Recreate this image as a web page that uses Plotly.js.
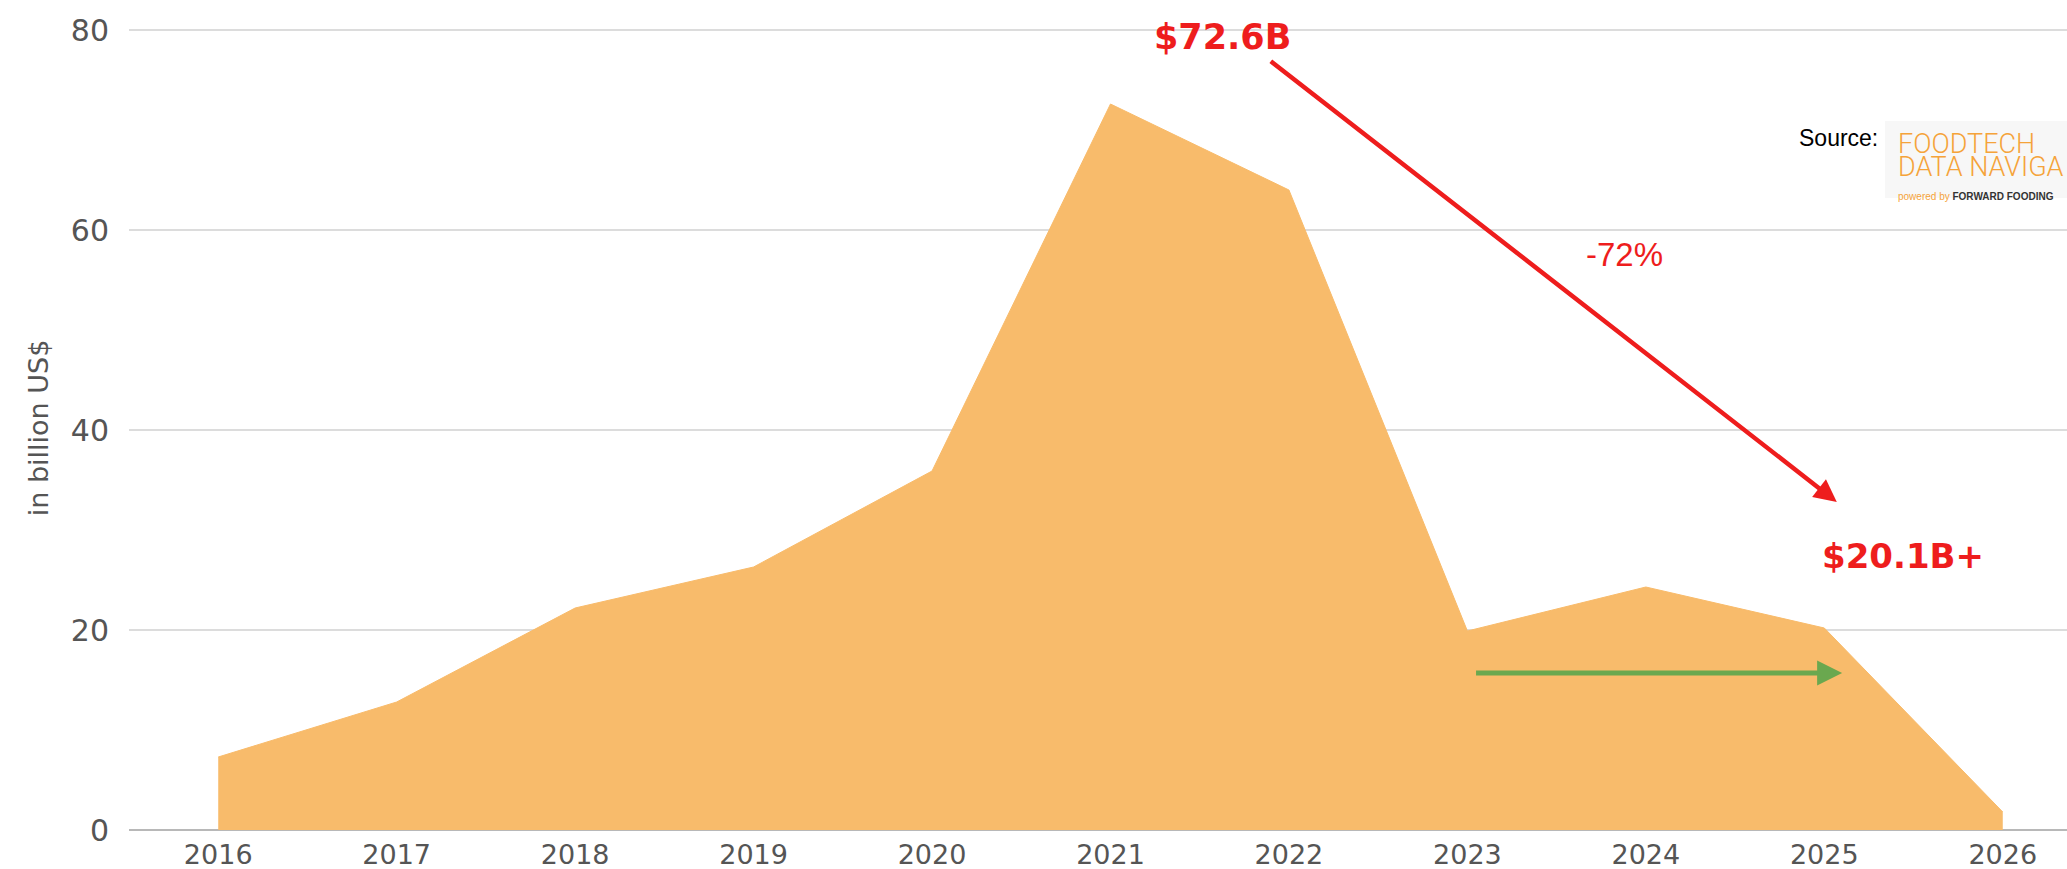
<!DOCTYPE html>
<html>
<head>
<meta charset="utf-8">
<script src="https://cdn.plot.ly/plotly-3.0.1.min.js"></script>
<style>html,body{margin:0;padding:0;overflow:hidden;background:#fff}#chart{width:2067px;height:869px}</style>
</head>
<body>
<div id="chart"></div>
<script>
// Data (billion US$)
const years = [2016, 2017, 2018, 2019, 2020, 2021, 2022, 2023, 2024, 2025, 2026];
const investment = [7.3, 12.8, 22.2, 26.3, 35.9, 72.6, 64.0, 19.9, 24.3, 20.2, 1.8];
const yTicks = [0, 20, 40, 60, 80];
const peakLabel = "$72.6B";
const latestLabel = "$20.1B+";
const changeLabel = "-72%";

const W = 2067, H = 869;
const M = {l: 129, r: 0, t: 26, b: 39};
const pw = W - M.l - M.r, ph = H - M.t - M.b;
const px = v => (v - M.l) / pw;
const py = v => 1 - (v - M.t) / ph;

const trace = {
  x: years, y: investment, type: 'scatter', mode: 'lines',
  fill: 'tozeroy', fillcolor: '#f8bb6b',
  line: {color: '#f8bb6b', width: 1},
  hoverinfo: 'x+y'
};

const red = '#ee1d1d';
const orange = '#f5a33a';
const logoText =
  '<span style="font-size:27px">FOODTECH</span><br>' +
  '<span style="font-size:27px">DATA NAVIGA</span><br>' +
  '<span style="font-size:10px;font-family:Liberation Sans">powered by <b style="color:#333">FORWARD FOODING</b></span>';

const layout = {
  width: W, height: H,
  margin: M,
  paper_bgcolor: '#fff', plot_bgcolor: '#fff',
  showlegend: false,
  font: {family: 'DejaVu Sans', color: '#555'},
  xaxis: {
    range: [2015.5, 2026.36], tickmode: 'array', tickvals: years,
    ticktext: years.map(String),
    showgrid: false, zeroline: false, showline: false, ticks: '',
    tickfont: {family: 'DejaVu Sans', size: 27, color: '#555'},
    ticklabelstandoff: 6
  },
  yaxis: {
    range: [0, 80.4], tickmode: 'array', tickvals: yTicks,
    ticktext: yTicks.map(String),
    showgrid: true, gridcolor: '#dcdcdc', gridwidth: 1.5,
    zeroline: true, zerolinecolor: '#b8b8b8', zerolinewidth: 2,
    showline: false, ticks: '',
    tickfont: {family: 'DejaVu Sans', size: 30, color: '#555'},
    ticklabelstandoff: 19,
    title: {text: 'in billion US$', font: {family: 'DejaVu Sans', size: 27, color: '#555'}, standoff: 14}
  },
  shapes: [
    {type: 'rect', xref: 'paper', yref: 'paper', x0: px(1885), x1: px(2067), y0: py(198), y1: py(121),
     fillcolor: '#f7f7f7', line: {width: 0}, layer: 'above'}
  ],
  annotations: [
    // red decline arrow
    {x: 2025.07, y: 32.8, ax: 2021.89, ay: 77, xref: 'x', yref: 'y', axref: 'x', ayref: 'y',
     text: '', showarrow: true, arrowhead: 2, arrowsize: 1, arrowwidth: 4.5, arrowcolor: red},
    // green flat arrow
    {x: 2025.1, y: 15.7, ax: 2023.04, ay: 15.7, xref: 'x', yref: 'y', axref: 'x', ayref: 'y',
     text: '', showarrow: true, arrowhead: 2, arrowsize: 1, arrowwidth: 5, arrowcolor: '#6aa84f'},
    {x: 2021.63, y: 79.3, xref: 'x', yref: 'y', text: peakLabel, showarrow: false,
     xanchor: 'center', yanchor: 'middle', font: {family: 'DejaVu Sans', size: 35, color: red, weight: 'bold'}},
    {x: 2025.44, y: 27.4, xref: 'x', yref: 'y', text: latestLabel, showarrow: false,
     xanchor: 'center', yanchor: 'middle', font: {family: 'DejaVu Sans', size: 34, color: red, weight: 'bold'}},
    {x: 2023.88, y: 57.6, xref: 'x', yref: 'y', text: changeLabel, showarrow: false,
     xanchor: 'center', yanchor: 'middle', font: {family: 'Liberation Sans', size: 33, color: red}},
    // source logo
    {x: px(1880), y: py(138), xref: 'paper', yref: 'paper', text: 'Source:', showarrow: false,
     xanchor: 'right', yanchor: 'middle', font: {family: 'Liberation Sans', size: 23, color: '#000'}},
    {x: px(1896), y: py(165), xref: 'paper', yref: 'paper', text: logoText, showarrow: false,
     align: 'left', xanchor: 'left', yanchor: 'middle',
     font: {family: 'Roboto', size: 18, color: orange, weight: 300}}
  ]
};

Plotly.newPlot('chart', [trace], layout, {displayModeBar: false, staticPlot: true});
</script>
</body>
</html>
